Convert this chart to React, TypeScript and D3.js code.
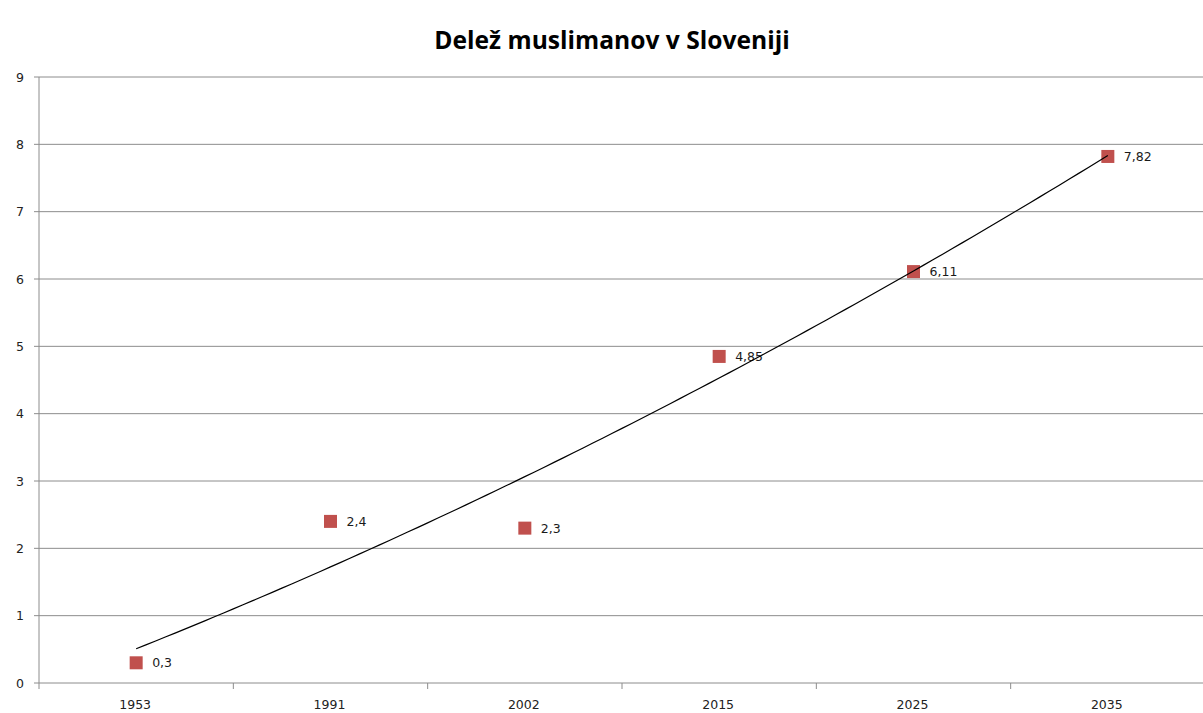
import React from "react";
import * as d3 from "d3";

const years = ["1953", "1991", "2002", "2015", "2025", "2035"];
const shares = [0.3, 2.4, 2.3, 4.85, 6.11, 7.82];
const shareLabels = ["0,3", "2,4", "2,3", "4,85", "6,11", "7,82"];
const yTicks = [0, 1, 2, 3, 4, 5, 6, 7, 8, 9];

// least squares quadratic fit on x = 1..n (like Excel's polynomial trendline)
function quadFit(ys: number[]) {
  const xs = ys.map((_, i) => i + 1);
  const mx = d3.mean(xs) as number;
  const my = d3.mean(ys) as number;
  const t = xs.map((x) => x - mx);
  const mt2 = d3.mean(t, (v) => v * v) as number;
  const u = t.map((v) => v * v - mt2);
  const b = d3.sum(t, (v, i) => v * ys[i]) / d3.sum(t, (v) => v * v);
  const c = d3.sum(u, (v, i) => v * ys[i]) / d3.sum(u, (v) => v * v);
  return (x: number) => my + b * (x - mx) + c * ((x - mx) * (x - mx) - mt2);
}

export default function App() {
  const width = 1203;
  const height = 713;
  const left = 39;
  const right = 1205;
  const top = 77;
  const bottom = 683;

  const x = d3.scaleBand().domain(years).range([left, right]);
  const y = d3.scaleLinear().domain([0, 9]).range([bottom, top]);
  const cx = (i: number) => (x(years[i]) as number) + x.bandwidth() / 2;

  const fit = quadFit(shares);
  const pos = d3.scaleLinear().domain([1, years.length]).range([cx(0), cx(years.length - 1)]);
  const trendPts = d3.range(1, years.length + 0.001, 0.05).map((v) => [pos(v), y(fit(v))] as [number, number]);
  const line = d3.line();

  const font = "'DejaVu Sans', sans-serif";

  return (
    <svg width={width} height={height} style={{ position: "absolute", left: 0, top: 0, background: "#fff" }}>
      <text x={612} y={49} textAnchor="middle" fontFamily="'Open Sans', sans-serif" fontWeight="bold" fontSize={24.6} fill="#000">
        Delež muslimanov v Sloveniji
      </text>
      {yTicks.map((t) => (
        <g key={t}>
          <line x1={left - 5} x2={right} y1={y(t)} y2={y(t)} stroke="#8c8c8c" strokeWidth={1} />
          <text x={24} y={y(t) + 4.5} textAnchor="end" fontFamily={font} fontSize={12.5} fill="#222">
            {t}
          </text>
        </g>
      ))}
      <line x1={left} x2={left} y1={top} y2={bottom} stroke="#8c8c8c" />
      {years.map((yr, i) => (
        <g key={yr}>
          <line x1={x(yr) as number} x2={x(yr) as number} y1={bottom} y2={bottom + 6} stroke="#8c8c8c" />
          <text x={cx(i) - 1} y={709} textAnchor="middle" fontFamily={font} fontSize={12.5} fill="#222">
            {yr}
          </text>
        </g>
      ))}
      {shares.map((v, i) => (
        <g key={i}>
          <rect x={cx(i) - 6.5} y={y(v) - 6.5} width={13} height={13} fill="#C0504D" />
          <text x={cx(i) + 16} y={y(v) + 4.5} fontFamily={font} fontSize={12.5} fill="#1a1a1a">
            {shareLabels[i]}
          </text>
        </g>
      ))}
      <path d={line(trendPts) as string} fill="none" stroke="#000" strokeWidth={1.2} />
    </svg>
  );
}
